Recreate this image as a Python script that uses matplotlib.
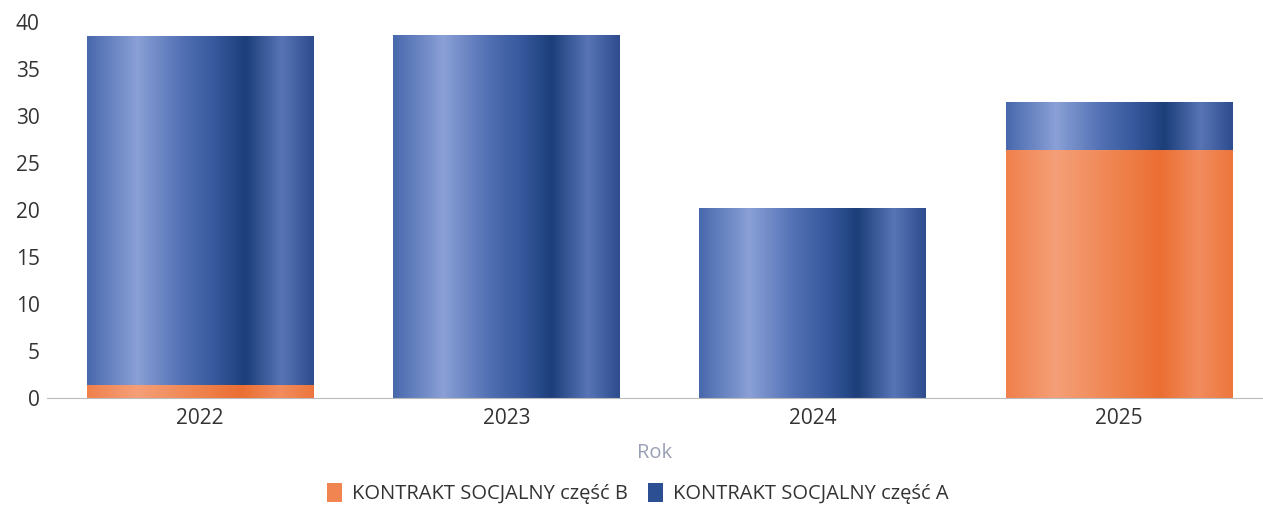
import numpy as np
import matplotlib.pyplot as plt
from matplotlib.colors import LinearSegmentedColormap
from matplotlib.patches import Patch

years = ['2022', '2023', '2024', '2025']
czesc_b = [1.4, 0, 0, 26.4]
czesc_a = [37.1, 38.6, 20.2, 5.1]

plt.rcParams['font.family'] = ['Open Sans', 'DejaVu Sans']

# cylinder-like shading across each bar
blue_cm = LinearSegmentedColormap.from_list('blue_cyl', [
    (0.0, '#4868ad'), (0.22, '#8aa0d6'), (0.42, '#5270b4'),
    (0.58, '#34569a'), (0.7, '#1c3f7a'), (0.86, '#5874b5'), (1.0, '#2e4d8e')])
orange_cm = LinearSegmentedColormap.from_list('orange_cyl', [
    (0.0, '#f0804c'), (0.22, '#f59f78'), (0.45, '#f08754'),
    (0.68, '#eb6e32'), (0.85, '#f28c5e'), (1.0, '#ed763c')])

fig = plt.figure(figsize=(12.63, 5.09), dpi=100)
ax = fig.add_axes([0.037, 0.218, 0.963, 0.739])

x = np.arange(len(years))
w = 0.74
bars_b = ax.bar(x, czesc_b, w, color='#f08552')
bars_a = ax.bar(x, czesc_a, w, bottom=czesc_b, color='#2c4f94')

grad = np.linspace(0, 1, 256).reshape(1, -1)
for bars, cm in [(bars_b, orange_cm), (bars_a, blue_cm)]:
    for b in bars:
        if b.get_height() <= 0:
            continue
        b.set_facecolor('none')
        x0, y0 = b.get_x(), b.get_y()
        im = ax.imshow(grad, cmap=cm, aspect='auto', interpolation='bicubic',
                       extent=[x0, x0 + b.get_width(), y0, y0 + b.get_height()], zorder=2)
        im.set_clip_path(b)

ax.set_xlim(-0.5, 3.47)
ax.set_ylim(0, 40)
ax.set_yticks(range(0, 41, 5))
ax.set_xticks(x)
ax.set_xticklabels(years)
ax.tick_params(length=0, labelsize=15, colors='#333333', pad=7)
ax.tick_params(axis='y', pad=5)
for s in ['top', 'right', 'left']:
    ax.spines[s].set_visible(False)
ax.spines['bottom'].set_color('#bbbbbb')
ax.spines['bottom'].set_linewidth(0.8)

ax.set_xlabel('Rok', fontsize=14.5, color='#9aa0b4', labelpad=10)

handles = [Patch(facecolor='#f08552', label='KONTRAKT SOCJALNY część B'),
           Patch(facecolor='#2c4f94', label='KONTRAKT SOCJALNY część A')]
fig.legend(handles=handles, loc='center', bbox_to_anchor=(0.505, 0.03), ncol=2,
           frameon=False, fontsize=14.5, handlelength=0.75, handleheight=1.1,
           handletextpad=0.5, columnspacing=1.0, labelcolor='#333333')

fig.savefig('out.png', dpi=100)
